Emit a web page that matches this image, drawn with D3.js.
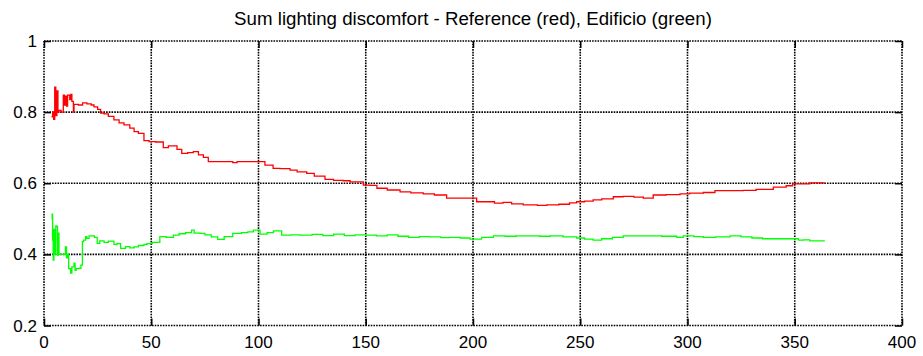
<!DOCTYPE html>
<html><head><meta charset="utf-8">
<script src="https://cdn.jsdelivr.net/npm/d3@7"></script>
<style>body{margin:0;background:#fff}svg{display:block}text{font-family:"Liberation Sans",Arial,sans-serif;fill:#000}</style>
</head><body>
<script>
const title = "Sum lighting discomfort - Reference (red), Edificio (green)";
const xTicks = [0,50,100,150,200,250,300,350,400];
const yTicks = [0.2,0.4,0.6,0.8,1];
const yTickLabels = ["0.2","0.4","0.6","0.8","1"];
const refDays = [3.5,4,4.5,5,5.5,6,6.5,7,8,9,9.5,10,10.5,11,12,12.5,13,13.7,14,16,18,20,22,23.3,25,26.4,28,30,32.6,35,37.3,40,42,44,46.6,49,52,55.6,58,60.3,62,64.2,67,69.6,72,74.3,76.6,85,88,90,99.2,103,106.8,110,114.7,118,122.5,126,131,135,139.5,142.7,148.9,152,155.2,160,166,171,176.8,182,187.7,195,199.4,201.7,206,210,214,218,223.4,230,234.4,240,245,248.3,252,256,260,265.4,270,275,279.4,284,290,296.5,301,307.4,312.8,320,326,332,340,346,349,357,364];
const refValues = [0.787,0.80,0.78,0.87,0.79,0.86,0.80,0.805,0.80,0.848,0.82,0.845,0.817,0.848,0.835,0.85,0.83,0.80,0.822,0.82,0.826,0.823,0.82,0.815,0.808,0.797,0.795,0.788,0.778,0.77,0.764,0.755,0.745,0.74,0.72,0.717,0.716,0.70,0.705,0.705,0.695,0.684,0.686,0.689,0.68,0.673,0.661,0.661,0.658,0.661,0.661,0.651,0.642,0.641,0.637,0.632,0.628,0.62,0.611,0.608,0.607,0.604,0.595,0.594,0.586,0.581,0.576,0.573,0.570,0.567,0.558,0.558,0.558,0.548,0.548,0.544,0.546,0.542,0.539,0.538,0.539,0.541,0.545,0.548,0.55,0.553,0.556,0.562,0.563,0.561,0.558,0.567,0.568,0.570,0.572,0.574,0.579,0.579,0.58,0.583,0.589,0.593,0.598,0.601,0.601];
const ediDays = [3.5,3.8,4,4.3,4.6,5,5.5,6,6.3,6.7,7,8,9,10,10.5,11,11.5,12.4,13,14,14.5,15,16.3,17.2,17.9,18.5,19.4,20,21,22.5,23.5,24.8,26,28,30,32.6,34,35.7,38,40,42,44,46.6,48,50.5,54,57,60.3,63,66,68.8,70,72.7,75,78,81,84,88,92,95,97.6,100.7,104,107,110.8,115,119.3,125,130,135,140,145,150,155,160,165,170,175,180,185,189,194,198.6,204,209.5,215,220,226.6,231,236,242,248.3,252,256,260,265,270,280,288,295,298,303,307.4,313,319.8,325,330,335,342,349.3,351.7,354,357,364];
const ediValues = [0.50,0.513,0.44,0.384,0.47,0.40,0.48,0.478,0.398,0.46,0.40,0.40,0.40,0.421,0.39,0.40,0.36,0.347,0.365,0.375,0.355,0.36,0.361,0.37,0.436,0.44,0.45,0.445,0.452,0.452,0.448,0.431,0.438,0.434,0.437,0.428,0.43,0.417,0.422,0.418,0.421,0.425,0.428,0.43,0.434,0.45,0.448,0.454,0.458,0.461,0.468,0.46,0.459,0.455,0.449,0.442,0.45,0.459,0.461,0.463,0.468,0.457,0.461,0.466,0.454,0.455,0.454,0.456,0.453,0.457,0.453,0.455,0.454,0.452,0.455,0.451,0.448,0.45,0.449,0.447,0.448,0.446,0.443,0.448,0.452,0.451,0.452,0.452,0.451,0.452,0.449,0.446,0.443,0.44,0.444,0.448,0.452,0.452,0.451,0.448,0.452,0.45,0.448,0.449,0.452,0.449,0.446,0.444,0.444,0.444,0.44,0.441,0.438,0.438];

const W = 923, H = 356;
const svg = d3.select("body").append("svg").attr("width", W).attr("height", H);
const x = d3.scaleLinear().domain([0,400]).range([44,902]);
const y = d3.scaleLinear().domain([0.2,1]).range([325.5,41]);
const gridStyle = g => g.attr("stroke","#000").attr("stroke-width",1.6).attr("stroke-dasharray","1.6,1.1");

// grid
const grid = svg.append("g");
grid.selectAll("line.v").data(xTicks).join("line").attr("class","v")
  .attr("x1",d=>x(d)).attr("x2",d=>x(d)).attr("y1",y(1)).attr("y2",y(0.2)).call(gridStyle);
grid.selectAll("line.h").data(yTicks).join("line").attr("class","h")
  .attr("y1",d=>y(d)).attr("y2",d=>y(d)).attr("x1",x(0)).attr("x2",x(400)).call(gridStyle);

// tick marks (inward) via axes
const tickStyle = g => { g.select(".domain").remove(); g.selectAll(".tick line").attr("stroke","#000").attr("stroke-width",1.5); g.selectAll("text").remove(); };
svg.append("g").attr("transform",`translate(0,${y(0.2)})`).call(d3.axisTop(x).tickValues(xTicks).tickSize(7)).call(tickStyle);
svg.append("g").attr("transform",`translate(0,${y(1)})`).call(d3.axisBottom(x).tickValues(xTicks).tickSize(7)).call(tickStyle);
svg.append("g").attr("transform",`translate(${x(0)},0)`).call(d3.axisRight(y).tickValues(yTicks).tickSize(7)).call(tickStyle);
svg.append("g").attr("transform",`translate(${x(400)},0)`).call(d3.axisLeft(y).tickValues(yTicks).tickSize(7)).call(tickStyle);

// labels
svg.append("g").selectAll("text").data(xTicks).join("text")
  .attr("x",d=>x(d)).attr("y",348).attr("text-anchor","middle").attr("font-size",17).text(d=>d);
svg.append("g").selectAll("text").data(yTicks).join("text")
  .attr("x",37).attr("y",d=>y(d)+6).attr("text-anchor","end").attr("font-size",17).text((d,i)=>yTickLabels[i]);
svg.append("text").attr("x",(x(0)+x(400))/2).attr("y",25).attr("text-anchor","middle").attr("font-size",18.7).text(title);

// lines
const line = d3.line().x(d=>x(d[0])).y(d=>y(d[1])).curve(d3.curveStepAfter);
svg.append("path").datum(refDays.map((d,i)=>[d,refValues[i]])).attr("d",line)
  .attr("fill","none").attr("stroke","#ff0000").attr("stroke-width",1.3);
svg.append("path").datum(ediDays.map((d,i)=>[d,ediValues[i]])).attr("d",line)
  .attr("fill","none").attr("stroke","#00ff00").attr("stroke-width",1.3);
</script>
</body></html>
